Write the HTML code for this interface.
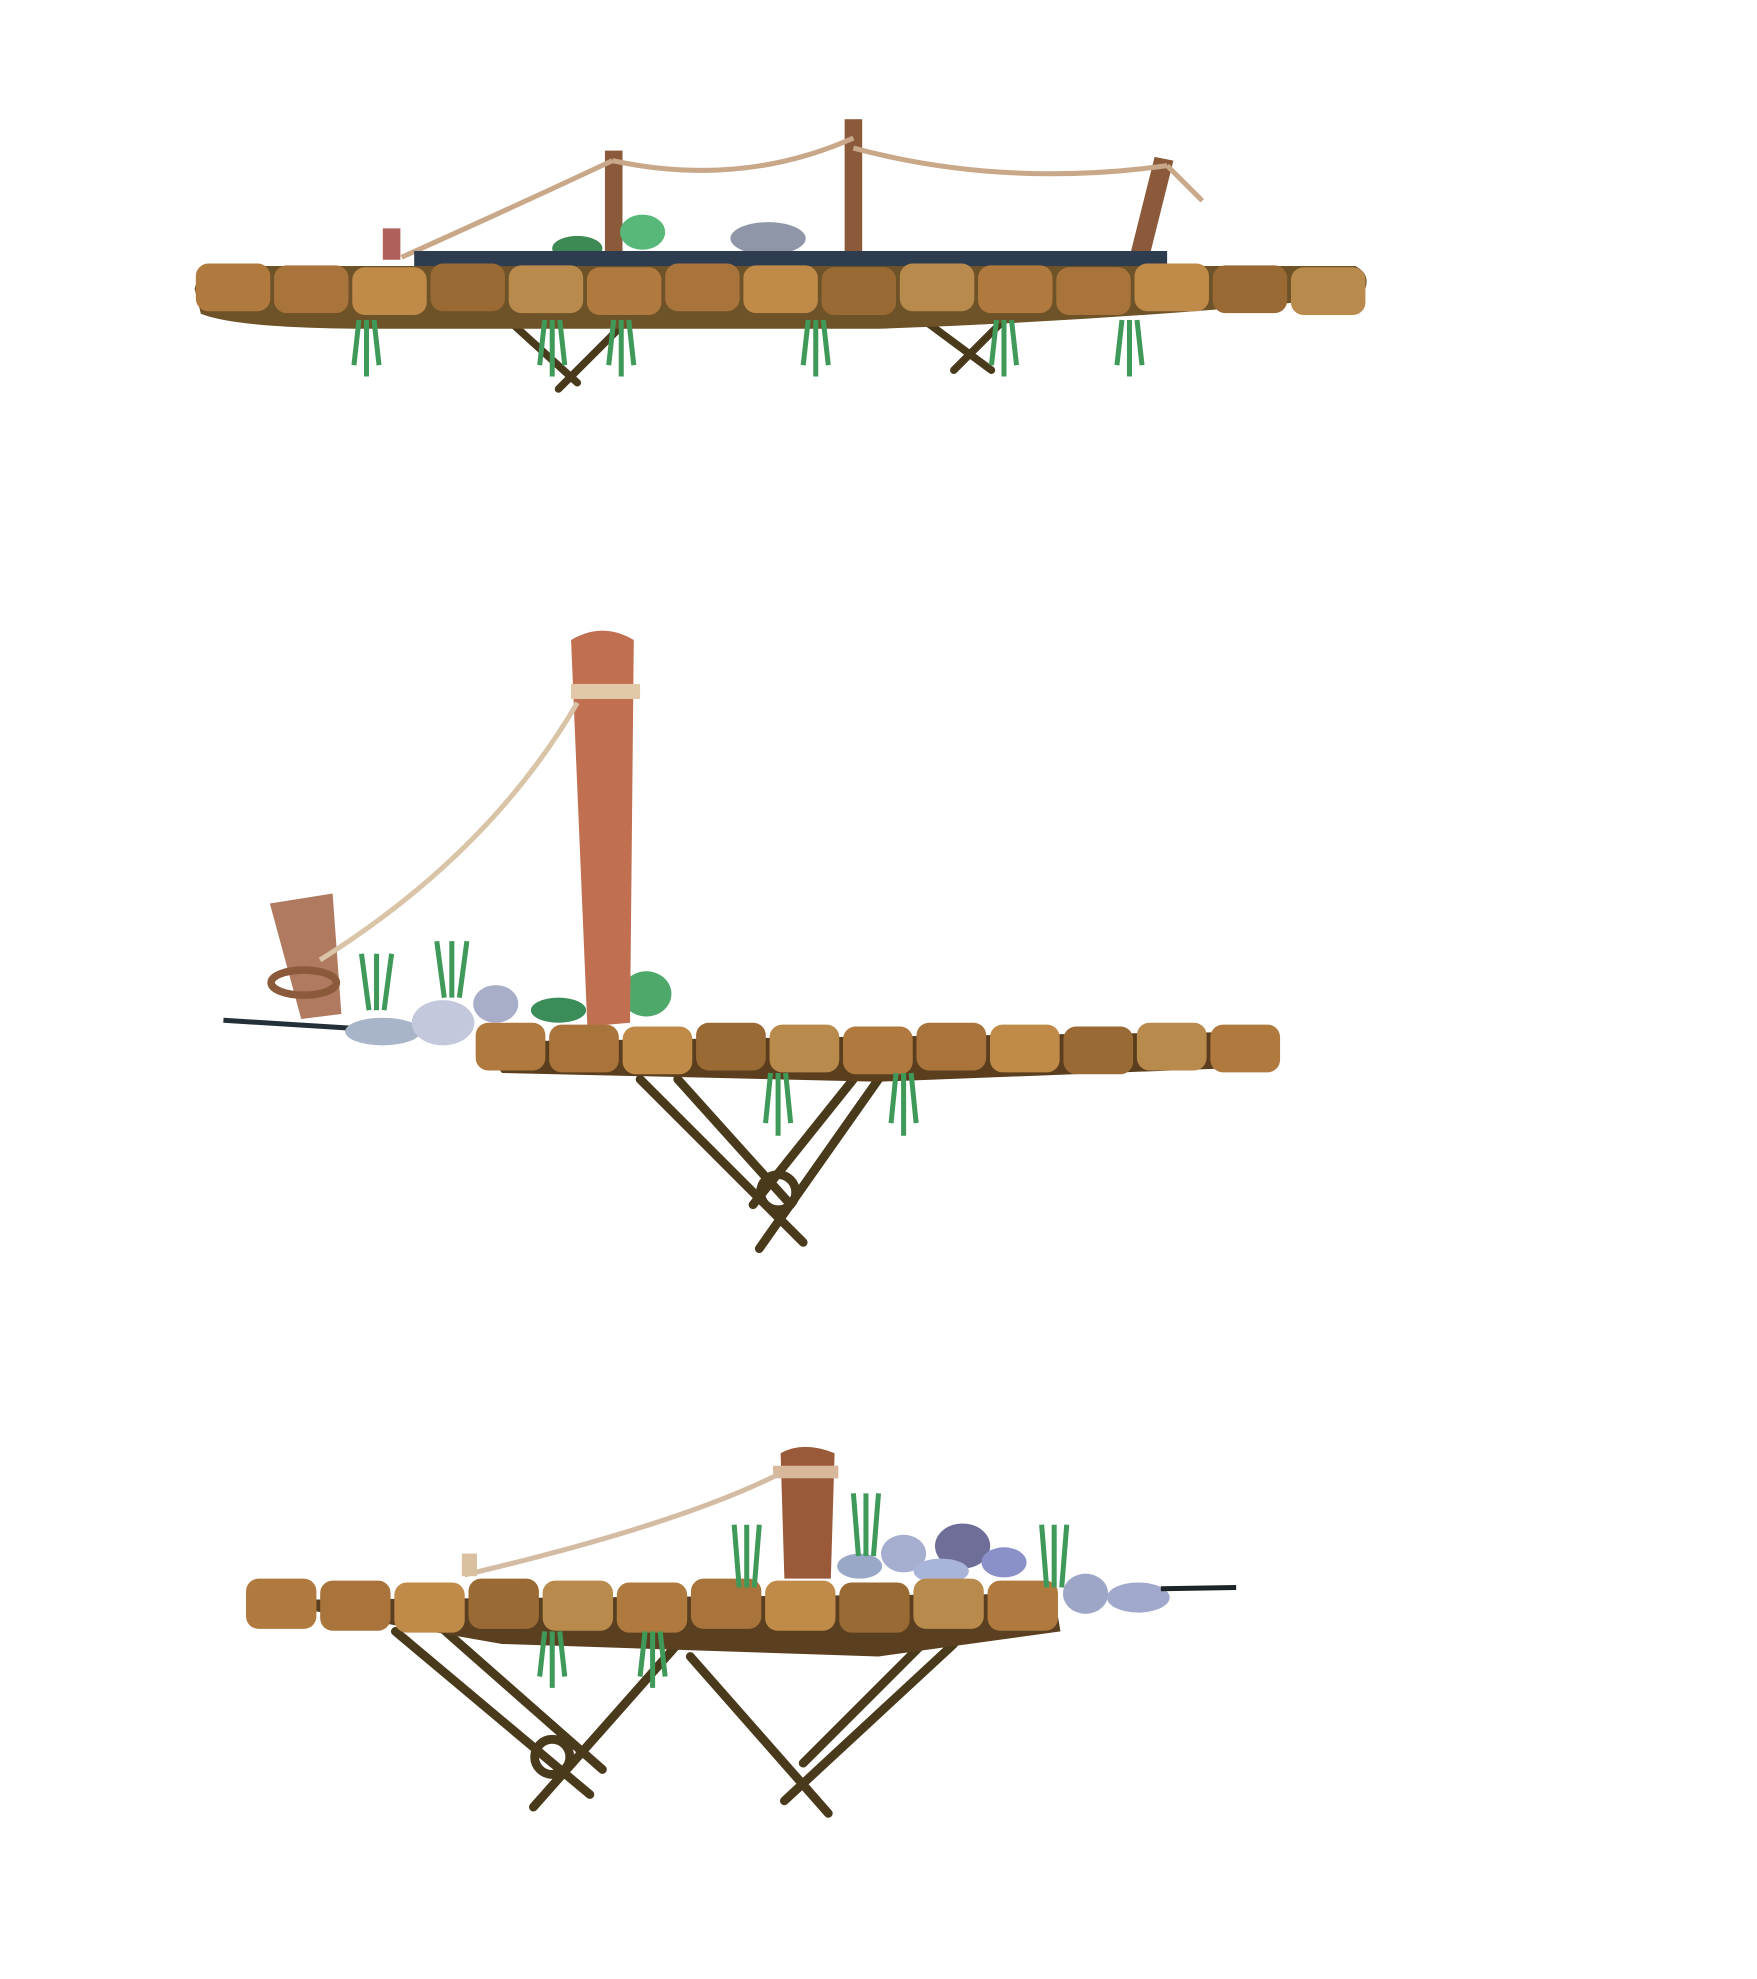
<!DOCTYPE html>
<html><head><meta charset="utf-8"><style>
html,body{margin:0;padding:0;background:#fff;}
svg{display:block;}
</style></head><body>
<svg width="1757" height="1979" viewBox="0 0 1400 1577" xmlns="http://www.w3.org/2000/svg">
<rect width="1400" height="1577" fill="#fff"/>
<g id="b1">
  <g stroke="#4a3a1c" stroke-width="6" stroke-linecap="round">
    <line x1="405" y1="255" x2="460" y2="305"/><line x1="500" y1="255" x2="445" y2="310"/>
    <line x1="740" y1="258" x2="790" y2="295"/><line x1="800" y1="255" x2="760" y2="295"/>
  </g>
  <path d="M155 230 Q160 210 200 212 L1080 212 Q1095 220 1085 236 Q900 255 700 262 L300 262 Q190 262 160 250 Z" fill="#6e5228"/>
  <g fill="#8a5a3a">
    <rect x="482" y="120" width="14" height="92"/>
    <rect x="673" y="95" width="14" height="112"/>
    <polygon points="920,125 935,128 915,208 900,205"/>
    <rect x="305" y="182" width="14" height="25" fill="#b0605a"/>
  </g>
  <g fill="none" stroke="#c9a88a" stroke-width="4">
    <path d="M320 205 Q420 160 488 128"/><path d="M488 128 Q590 150 680 110"/><path d="M680 118 Q800 150 930 132"/><path d="M930 132 L958 160"/>
  </g>
  <g>
    <ellipse cx="612" cy="190" rx="30" ry="13" fill="#8e96a8"/>
    <ellipse cx="512" cy="185" rx="18" ry="14" fill="#58b87a"/>
    <ellipse cx="460" cy="198" rx="20" ry="10" fill="#3d8a55"/>
    <rect x="330" y="200" width="600" height="12" fill="#2e3c50"/>
  </g>
  <g id="stones1"></g>
  <g id="grass1" stroke="#3f9a5a" stroke-width="4" fill="none"></g>
</g>
<g id="b2">
  <g stroke="#4a3a1c" stroke-width="7" stroke-linecap="round">
    <line x1="510" y1="860" x2="640" y2="990"/><line x1="540" y1="860" x2="630" y2="960"/>
    <line x1="700" y1="860" x2="605" y2="995"/><line x1="680" y1="860" x2="600" y2="960"/>
    <circle cx="620" cy="950" r="14" fill="none"/>
  </g>
  <path d="M380 830 L1015 822 Q1025 840 1012 850 L700 862 L400 855 Z" fill="#5a3e1e"/>
  <line x1="178" y1="813" x2="290" y2="820" stroke="#243038" stroke-width="4"/>
  <g>
    <ellipse cx="305" cy="822" rx="30" ry="11" fill="#a8b4c8"/>
    <ellipse cx="353" cy="815" rx="25" ry="18" fill="#c4c8dc"/>
    <ellipse cx="395" cy="800" rx="18" ry="15" fill="#a8aec8"/>
    <ellipse cx="515" cy="792" rx="20" ry="18" fill="#4ea86a"/>
    <ellipse cx="445" cy="805" rx="22" ry="10" fill="#3a8c58"/>
  </g>
  <g>
    <path d="M215 720 L265 712 L272 808 L240 812 Z" fill="#b07a60"/>
    <ellipse cx="242" cy="783" rx="26" ry="10" fill="none" stroke="#8a5a3a" stroke-width="6"/>
  </g>
  <g>
    <path d="M455 510 Q480 495 505 510 L502 815 L468 818 Z" fill="#c07050"/>
    <rect x="455" y="545" width="55" height="12" fill="#e0c8a8"/>
  </g>
  <path d="M460 560 Q390 680 255 765" fill="none" stroke="#d9c4a8" stroke-width="4"/>
  <g id="stones2"></g>
  <g id="grass2" stroke="#3f9a5a" stroke-width="4" fill="none"></g>
</g>
<g id="b3">
  <g stroke="#4a3a1c" stroke-width="7" stroke-linecap="round">
    <line x1="315" y1="1300" x2="470" y2="1430"/><line x1="355" y1="1300" x2="480" y2="1410"/>
    <line x1="540" y1="1310" x2="425" y2="1440"/><line x1="550" y1="1320" x2="660" y2="1445"/>
    <line x1="760" y1="1310" x2="625" y2="1435"/><line x1="735" y1="1310" x2="640" y2="1405"/>
    <circle cx="440" cy="1400" r="14" fill="none"/>
  </g>
  <path d="M200 1275 L840 1270 L845 1300 L700 1320 L400 1310 Z" fill="#5a4020"/>
  <g>
    <ellipse cx="720" cy="1238" rx="18" ry="15" fill="#a6aed0"/>
    <ellipse cx="767" cy="1232" rx="22" ry="18" fill="#6e6e98"/>
    <ellipse cx="750" cy="1252" rx="22" ry="10" fill="#a8b4d8"/>
    <ellipse cx="800" cy="1245" rx="18" ry="12" fill="#8a90c8"/>
    <ellipse cx="685" cy="1248" rx="18" ry="10" fill="#9aa8c8"/>
    <ellipse cx="865" cy="1270" rx="18" ry="16" fill="#9ea6c8"/>
    <ellipse cx="907" cy="1273" rx="25" ry="12" fill="#a0a8cc"/>
    <line x1="925" y1="1266" x2="985" y2="1265" stroke="#1c2428" stroke-width="4"/>
  </g>
  <g>
    <path d="M622 1158 Q640 1148 665 1158 L662 1258 L625 1258 Z" fill="#9a5a3a"/>
    <rect x="616" y="1168" width="52" height="10" fill="#d8b89a"/>
  </g>
  <path d="M620 1175 Q540 1215 370 1255" fill="none" stroke="#d4bca4" stroke-width="4"/>
  <rect x="368" y="1238" width="12" height="18" fill="#d8c0a0"/>
  <g id="stones3"></g>
  <g id="grass3" stroke="#3f9a5a" stroke-width="4" fill="none"></g>
</g>
</svg>
<script>
var NS="http://www.w3.org/2000/svg";
var colors=["#b07a3e","#a8743c","#c08a48","#9a6a34","#b88a4c"];
function stones(id,x0,x1,y,h,n){
  var g=document.getElementById(id),w=(x1-x0)/n;
  for(var i=0;i<n;i++){
    var e=document.createElementNS(NS,"rect");
    
    
    e.setAttribute("x",x0+i*w+1);e.setAttribute("y",y+(i%3)*1.5);
    e.setAttribute("width",w-3);e.setAttribute("height",h);
    e.setAttribute("rx",10);e.setAttribute("fill",colors[i%colors.length]);
    g.appendChild(e);
  }
}
stones("stones1",155,1090,210,38,15);
stones("stones2",378,1022,815,38,11);
stones("stones3",195,845,1258,40,11);
function grass(id,xs,y,len){
  var g=document.getElementById(id);
  xs.forEach(function(x){
    for(var k=-1;k<=1;k++){
      var p=document.createElementNS(NS,"line");
      
      
      p.setAttribute("x1",x+k*6);p.setAttribute("y1",y);
      p.setAttribute("x2",x+k*10);p.setAttribute("y2",y+len*(k==0?1:0.8));
      g.appendChild(p);
    }
  });
}
grass("grass1",[292,440,495,650,800,900],255,45);
grass("grass2",[620,720],855,50);
grass("grass3",[440,520],1300,45);
var up=document.getElementById("grass2");
[[300,770],[360,760]].forEach(function(c){
  for(var k=-1;k<=1;k++){
    var p=document.createElementNS(NS,"line");
    
    
    p.setAttribute("x1",c[0]+k*6);p.setAttribute("y1",c[1]+35);
    p.setAttribute("x2",c[0]+k*12);p.setAttribute("y2",c[1]-10);
    up.appendChild(p);
  }
});
var up3=document.getElementById("grass3");
[[595,1240],[690,1215],[840,1240]].forEach(function(c){
  for(var k=-1;k<=1;k++){
    var p=document.createElementNS(NS,"line");
    
    
    p.setAttribute("x1",c[0]+k*6);p.setAttribute("y1",c[1]+25);
    p.setAttribute("x2",c[0]+k*10);p.setAttribute("y2",c[1]-25);
    up3.appendChild(p);
  }
});
</script>
</body></html>
